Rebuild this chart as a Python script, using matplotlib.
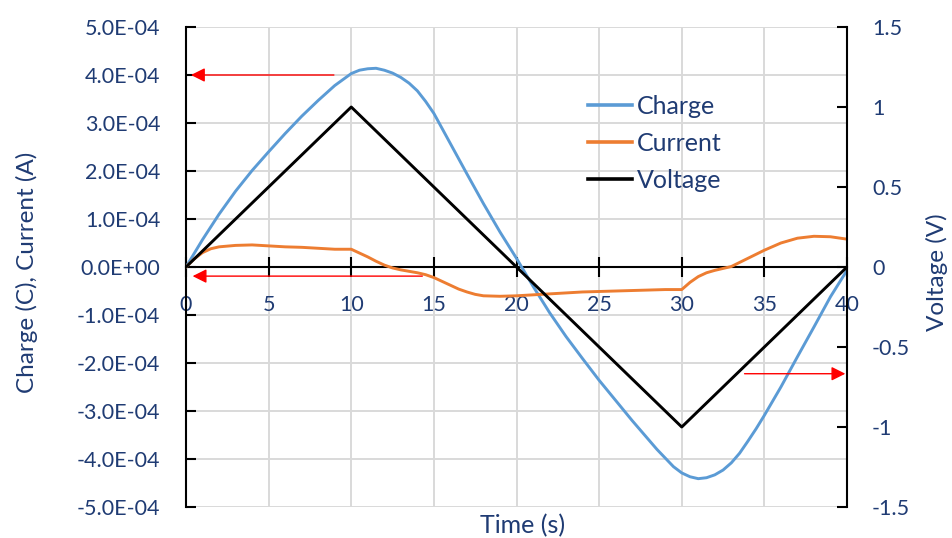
import matplotlib
matplotlib.use("Agg")
import matplotlib.pyplot as plt
from matplotlib.ticker import FuncFormatter, MultipleLocator

plt.rcParams['font.family'] = ['Lato', 'DejaVu Sans']

# ---- data ----
charge_time = [0, 1, 2, 3, 4, 5, 6, 7, 8, 9, 10, 10.5, 11, 11.5, 12, 12.5, 13, 13.5, 14, 14.5,
               15, 16, 17, 18, 19, 20, 21, 22, 23, 24, 25, 26, 27, 28, 28.5, 29, 29.5, 30, 30.5,
               31, 31.5, 32, 32.5, 33, 33.5, 34, 34.5, 35, 36, 37, 38, 39, 40]
charge = [0, 0.57, 1.1, 1.58, 2.01, 2.4, 2.78, 3.14, 3.47, 3.78, 4.03, 4.1, 4.13, 4.14, 4.1,
          4.04, 3.95, 3.83, 3.67, 3.45, 3.2, 2.57, 1.94, 1.32, 0.73, 0.18, -0.4, -0.95, -1.45,
          -1.91, -2.36, -2.78, -3.2, -3.6, -3.8, -3.98, -4.16, -4.29, -4.37, -4.41, -4.39,
          -4.33, -4.23, -4.08, -3.88, -3.63, -3.37, -3.09, -2.5, -1.87, -1.25, -0.62, -0.07]
current_time = [0, 0.5, 1, 1.5, 2, 3, 4, 5, 6, 7, 8, 9, 10, 10.5, 11, 11.5, 12, 12.5, 13, 14,
                14.5, 15, 15.5, 16, 16.5, 17, 17.5, 18, 19, 20, 21, 22, 23, 24, 25, 26, 27, 28,
                29, 30, 30.5, 31, 31.5, 32, 32.5, 33, 34, 35, 36, 37, 38, 39, 40]
current = [0, 0.17, 0.3, 0.38, 0.42, 0.45, 0.46, 0.44, 0.42, 0.41, 0.39, 0.37, 0.37, 0.29, 0.21,
           0.12, 0.04, -0.02, -0.06, -0.12, -0.16, -0.22, -0.3, -0.38, -0.46, -0.52, -0.57,
           -0.6, -0.61, -0.6, -0.58, -0.56, -0.54, -0.52, -0.51, -0.5, -0.49, -0.48, -0.47,
           -0.47, -0.32, -0.2, -0.12, -0.07, -0.03, 0.01, 0.18, 0.35, 0.5, 0.6, 0.64, 0.63, 0.58]
volt_time = [0, 10, 30, 40]
voltage = [0, 1, -1, 0]
scale = 1e-4
charge = [c * scale for c in charge]
current = [c * scale for c in current]

labels = ["Charge", "Current", "Voltage"]
x_ticks = [0, 5, 10, 15, 20, 25, 30, 35, 40]

# annotation arrows (tail, head) in data coordinates
arrow_left_top = ((8.95, 4.0e-4), (0.3, 4.0e-4))
arrow_left_zero = ((14.3, -0.19e-4), (0.4, -0.19e-4))
arrow_right = ((33.8, -0.667), (39.9, -0.667))

# ---- style ----
navy = '#1f3b73'
blue = '#5B9BD5'
orange = '#ED7D31'
grid_c = '#d9d9d9'
tick_fs = 15.5

fig = plt.figure(figsize=(9.52, 5.38), dpi=100)
ax = fig.add_axes([186 / 952, 1 - 507 / 538, (847 - 186) / 952, 480 / 538])
ax2 = ax.twinx()

ax.set_xlim(0, 40)
ax.set_ylim(-5e-4, 5e-4)
ax2.set_ylim(-1.5, 1.5)

# grid
ax.yaxis.set_major_locator(MultipleLocator(1e-4))
ax.set_xticks(x_ticks)
ax.grid(True, color=grid_c, lw=1.4, zorder=0)
ax.set_axisbelow(True)

# spines
ax.spines['top'].set_visible(False)
ax2.spines['top'].set_visible(False)
ax2.spines['bottom'].set_visible(False)
ax.spines['right'].set_visible(False)
ax2.spines['left'].set_visible(False)
ax.spines['bottom'].set_position(('data', 0))
for sp in [ax.spines['left'], ax2.spines['right'], ax.spines['bottom']]:
    sp.set_color('black')
    sp.set_linewidth(1.5)

ax.yaxis.set_major_formatter(FuncFormatter(lambda v, p: f"{v:.1E}"))
ax.tick_params(axis='y', direction='in', length=7, width=1.5, pad=18.5,
               labelsize=tick_fs, labelcolor=navy, color='black')
ax.tick_params(axis='x', direction='inout', length=14, width=1.5, pad=13,
               labelsize=tick_fs, labelcolor=navy, color='black')
ax2.yaxis.set_major_locator(MultipleLocator(0.5))
ax2.yaxis.set_major_formatter(FuncFormatter(lambda v, p: f"{v:g}"))
ax2.tick_params(axis='y', direction='in', length=7, width=1.5, pad=18,
                labelsize=tick_fs, labelcolor=navy, color='black')

# data
l1, = ax.plot(charge_time, charge, color=blue, lw=2.1, label=labels[0], zorder=3,
              solid_joinstyle='round')
l2, = ax.plot(current_time, current, color=orange, lw=2.1, label=labels[1], zorder=3,
              solid_joinstyle='round')
l3, = ax2.plot(volt_time, voltage, color='black', lw=2.1, label=labels[2], zorder=3)

# arrows
ap = dict(arrowstyle='-|>', color='red', lw=1.0, mutation_scale=21, shrinkA=0, shrinkB=0)
ax.annotate('', xy=arrow_left_top[1], xytext=arrow_left_top[0], arrowprops=ap, zorder=5)
ax.annotate('', xy=arrow_left_zero[1], xytext=arrow_left_zero[0], arrowprops=ap, zorder=5)
ax2.annotate('', xy=arrow_right[1], xytext=arrow_right[0], arrowprops=ap, zorder=5)

# legend
leg = fig.legend([l1, l2, l3], labels, loc='upper left',
                 bbox_to_anchor=(588 / 952, 1 - 95 / 538), frameon=False,
                 fontsize=18, handlelength=1.75, handletextpad=0.22,
                 labelspacing=0.55, borderpad=0, borderaxespad=0)
for t in leg.get_texts():
    t.set_color(navy)
for h in leg.legend_handles:
    h.set_linewidth(2.6)

# axis titles
fig.text(27 / 952, 1 - 272 / 538, "Charge (C), Current (A)", rotation=90,
         ha='center', va='center', fontsize=17.5, color=navy)
fig.text(937 / 952, 1 - 272 / 538, "Voltage (V)", rotation=90,
         ha='center', va='center', fontsize=17.5, color=navy)
fig.text(523 / 952, 1 - 526 / 538, "Time (s)", ha='center', va='center',
         fontsize=18, color=navy)

fig.savefig("out.png", dpi=100)
